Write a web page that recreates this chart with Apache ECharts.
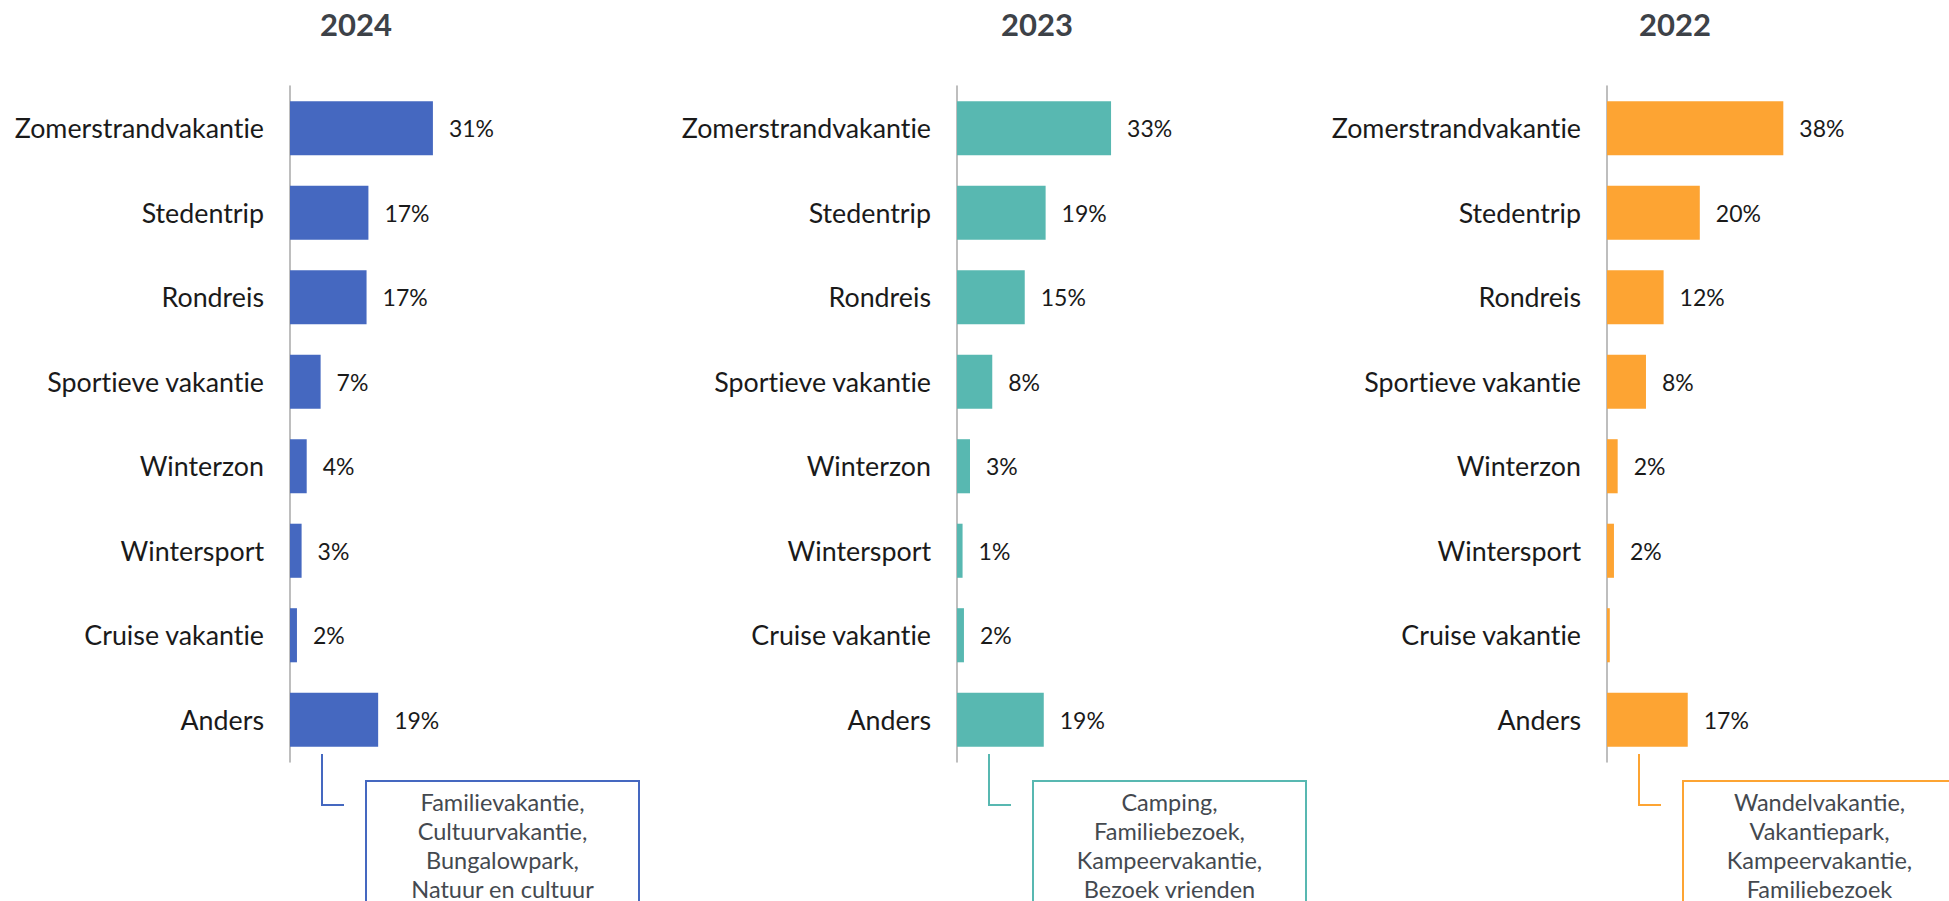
<!DOCTYPE html>
<html>
<head>
<meta charset="utf-8">
<title>Type vakantie 2024 / 2023 / 2022</title>
<script src="https://cdn.jsdelivr.net/npm/echarts@6/dist/echarts.min.js"></script>
<style>
  html, body { margin: 0; padding: 0; background: #fff; }
  #chart { width: 1949px; height: 901px; }
  /* geen ti-ligatuur zoals in het origineel */
  #chart svg text { font-variant-ligatures: none; font-feature-settings: "liga" 0; }
</style>
</head>
<body>
<div id="chart"></div>
<script>
// categorieen (van boven naar onder)
const categories = [
  "Zomerstrandvakantie",
  "Stedentrip",
  "Rondreis",
  "Sportieve vakantie",
  "Winterzon",
  "Wintersport",
  "Cruise vakantie",
  "Anders"
];

// jaren per paneel
const years = ["2024", "2023", "2022"];

const values2024 = [30.8, 16.9, 16.5, 6.6, 3.6, 2.5, 1.5, 19.0];
const values2023 = [33.2, 19.1, 14.6, 7.6, 2.8, 1.2, 1.5, 18.7];
const values2022 = [38.0, 20.0, 12.2, 8.4, 2.3, 1.5, 0.6, 17.4];

// toelichting bij "Anders"
const notes2024 = ["Familievakantie,", "Cultuurvakantie,", "Bungalowpark,", "Natuur en cultuur"];
const notes2023 = ["Camping,", "Familiebezoek,", "Kampeervakantie,", "Bezoek vrienden"];
const notes2022 = ["Wandelvakantie,", "Vakantiepark,", "Kampeervakantie,", "Familiebezoek"];

const colors = ["#4568c0", "#58b8b1", "#fda433"];

const allValues = [values2024, values2023, values2022];
const allNotes = [notes2024, notes2023, notes2022];

// layout
const panelLeft = [290, 957, 1607];
const titleX = [356, 1037, 1675];
const gridTop = 86;
const gridHeight = 676;
const gridWidth = 232;
const FONT = "Lato, 'Noto Sans', sans-serif";

const chartDom = document.getElementById("chart");
const myChart = echarts.init(chartDom, null, { renderer: "svg" });

const grids = [], xAxes = [], yAxes = [], series = [], graphics = [];

years.forEach((year, i) => {
  grids.push({ left: panelLeft[i], top: gridTop, width: gridWidth, height: gridHeight });

  xAxes.push({
    gridIndex: i,
    type: "value",
    min: 0,
    max: 50,
    show: false
  });

  yAxes.push({
    gridIndex: i,
    type: "category",
    inverse: true,
    data: categories,
    axisLine: { show: true, lineStyle: { color: "#a8a8a8", width: 1.5 } },
    axisTick: { show: false },
    splitLine: { show: false },
    axisLabel: {
      margin: 26,
      color: "#1a1a1a",
      fontSize: 26.8,
      fontFamily: FONT
    }
  });

  series.push({
    name: year,
    type: "bar",
    xAxisIndex: i,
    yAxisIndex: i,
    data: allValues[i],
    barCategoryGap: "36%",
    itemStyle: { color: colors[i] },
    label: {
      show: true,
      position: "right",
      distance: 16,
      color: "#1a1a1a",
      fontSize: 23,
      fontFamily: FONT,
      formatter: (p) => (p.value < 1 ? "" : Math.round(p.value) + "%")
    },
    silent: true
  });

  // jaartitel
  graphics.push({
    type: "text",
    x: titleX[i],
    y: 24,
    style: {
      text: year,
      fill: "#3d4248",
      font: "bold 31px " + FONT,
      align: "center",
      verticalAlign: "middle"
    }
  });

  // haakje van "Anders" naar het kader
  const lx = panelLeft[i] + 32;
  graphics.push({
    type: "polyline",
    shape: { points: [[lx, 754], [lx, 805], [lx + 22, 805]] },
    style: { stroke: colors[i], lineWidth: 2, fill: null }
  });

  // kader met toelichting
  const bx = panelLeft[i] + 76;
  graphics.push({
    type: "rect",
    shape: { x: bx, y: 781, width: 273, height: 200 },
    style: { stroke: colors[i], lineWidth: 2, fill: "#fff" }
  });
  graphics.push({
    type: "text",
    x: bx + 136.5,
    y: 787,
    style: {
      text: allNotes[i].join("\n"),
      fill: "#44494f",
      font: "23.5px " + FONT,
      lineHeight: 29,
      align: "center",
      verticalAlign: "top"
    }
  });
});

const option = {
  animation: false,
  backgroundColor: "#ffffff",
  grid: grids,
  xAxis: xAxes,
  yAxis: yAxes,
  series: series,
  graphic: graphics
};

myChart.setOption(option);
window.addEventListener("resize", () => myChart.resize());
</script>
</body>
</html>
